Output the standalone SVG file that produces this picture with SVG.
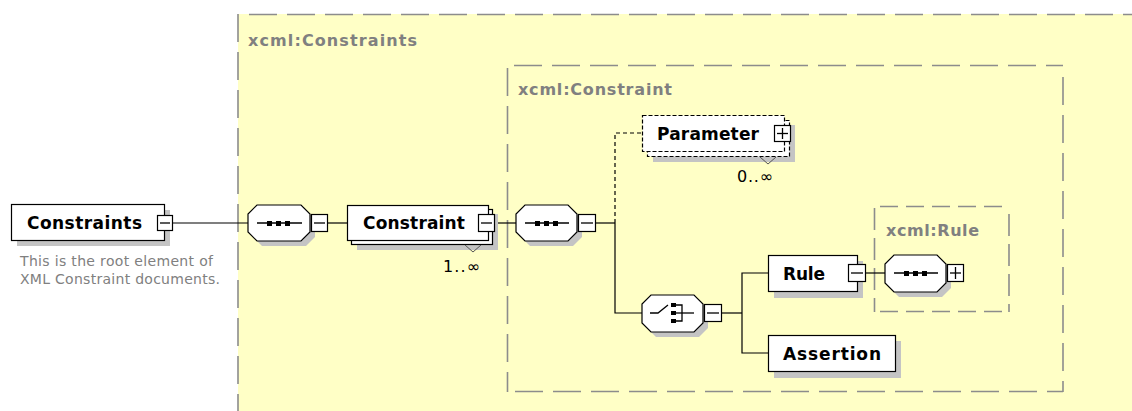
<svg xmlns="http://www.w3.org/2000/svg" width="1132" height="411" viewBox="0 0 1132 411">
<style>
.bg{fill:#ffffff}
.zone{fill:#FFFFC6;stroke:none}
.hd{stroke:#8c8c8c;stroke-width:1.6;fill:none;stroke-dasharray:28 10}
.zl{font-family:"DejaVu Sans",sans-serif;font-weight:bold;font-size:16px;fill:#808080}
.box{fill:#ffffff;stroke:#000;stroke-width:1.2}
.dbox{fill:#ffffff;stroke:#000;stroke-width:1.2;stroke-dasharray:4 2}
.sh{fill:#c4c4c4;stroke:none}
.nl{font-family:"DejaVu Sans",sans-serif;font-weight:bold;font-size:17px;fill:#000}
.btn{fill:#ffffff;stroke:#000;stroke-width:1.2}
.sym{stroke:#000;stroke-width:1.3;fill:none}
.dot{fill:#000}
.ln{stroke:#000;stroke-width:1.2;fill:none}
.dl{stroke:#000;stroke-width:1.2;fill:none;stroke-dasharray:4 3}
.occ{font-family:"DejaVu Sans",sans-serif;font-size:16px;fill:#000}
.tri{fill:none;stroke:#555;stroke-width:1}
.doc{font-family:"DejaVu Sans",sans-serif;font-size:14px;fill:#808080}
</style>
<rect class="bg" x="0" y="0" width="1132" height="411"/>

<g id="zone-constraints">
<rect class="zone" x="238" y="14" width="900" height="400"/>
<line class="hd" x1="249" y1="14.5" x2="1132" y2="14.5"/>
<line class="hd" x1="238" y1="14" x2="238" y2="411"/>
<text class="zl" x="248" y="46" textLength="169" lengthAdjust="spacing">xcml:Constraints</text>
</g>

<g id="zone-constraint">
<line class="hd" x1="514" y1="65.5" x2="1063" y2="65.5"/>
<line class="hd" x1="507.5" y1="68" x2="507.5" y2="392"/>
<line class="hd" x1="1063" y1="77" x2="1063" y2="392"/>
<line class="hd" x1="515" y1="391.5" x2="1063" y2="391.5"/>
<text class="zl" x="518" y="95" textLength="154" lengthAdjust="spacing">xcml:Constraint</text>
</g>

<g id="zone-rule">
<line class="hd" x1="880" y1="206.5" x2="1009" y2="206.5" style="stroke-dasharray:18 8"/>
<line class="hd" x1="874.5" y1="208" x2="874.5" y2="312" style="stroke-dasharray:22 8"/>
<line class="hd" x1="1009" y1="214" x2="1009" y2="312" style="stroke-dasharray:22 8"/>
<line class="hd" x1="880" y1="311.5" x2="1009" y2="311.5" style="stroke-dasharray:18 8"/>
<text class="zl" x="886" y="236" textLength="93" lengthAdjust="spacing">xcml:Rule</text>
</g>

<g id="connectors">
<line class="ln" x1="173" y1="223" x2="248" y2="223"/>
<line class="ln" x1="328" y1="223" x2="347" y2="223"/>
<line class="ln" x1="495" y1="223" x2="516" y2="223"/>
<line class="ln" x1="596" y1="223" x2="615" y2="223"/>
<polyline class="ln" points="615,223 615,313 642,313"/>
<polyline class="dl" points="615,223 615,133 642,133"/>
<line class="ln" x1="722" y1="313" x2="742" y2="313"/>
<polyline class="ln" points="768,273 742,273 742,353 768,353"/>
<line class="ln" x1="865" y1="273" x2="885" y2="273"/>
</g>

<g id="node-constraints">
<rect class="sh" x="17" y="210" width="153" height="36"/>
<rect class="box" x="11.5" y="204.5" width="153" height="36"/>
<text class="nl" x="27" y="229" textLength="115" lengthAdjust="spacing">Constraints</text>
<rect class="btn" x="157.5" y="215.5" width="15" height="15"/>
<line class="sym" x1="160" y1="223" x2="170" y2="223"/>
<text class="doc" x="20" y="266" textLength="193" lengthAdjust="spacing">This is the root element of</text>
<text class="doc" x="20" y="284" textLength="200" lengthAdjust="spacing">XML Constraint documents.</text>
</g>

<g id="seq-1">
<polygon class="sh" points="262,210 306,210 315,219 315,237 306,246 262,246 253,237 253,219"/>
<polygon class="box" points="257,205 301,205 310,214 310,232 301,241 257,241 248,232 248,214"/>
<line class="sym" x1="257" y1="223" x2="302" y2="223"/>
<rect class="dot" x="267" y="221" width="5" height="5"/>
<rect class="dot" x="276" y="221" width="5" height="5"/>
<rect class="dot" x="285" y="221" width="5" height="5"/>
<rect class="btn" x="311.5" y="214.5" width="16" height="17"/>
<line class="sym" x1="314" y1="223" x2="325" y2="223"/>
</g>

<g id="node-constraint">
<rect class="sh" x="357" y="214" width="141" height="36"/>
<rect class="box" x="351.5" y="209.5" width="141" height="35"/>
<rect class="box" x="347.5" y="205.5" width="141" height="35"/>
<text class="nl" x="363" y="229" textLength="102" lengthAdjust="spacing">Constraint</text>
<rect class="btn" x="478.5" y="214.5" width="16" height="17"/>
<line class="sym" x1="481" y1="223" x2="492" y2="223"/>
<polyline class="tri" points="465,245 473,252 481,245"/>
<text class="occ" x="443" y="272" textLength="37" lengthAdjust="spacing">1..∞</text>
</g>

<g id="seq-2">
<polygon class="sh" points="530,210 573,210 582,219 582,237 573,246 530,246 521,237 521,219"/>
<polygon class="box" points="525,205 568,205 577,214 577,232 568,241 525,241 516,232 516,214"/>
<line class="sym" x1="525" y1="223" x2="569" y2="223"/>
<rect class="dot" x="535" y="221" width="5" height="5"/>
<rect class="dot" x="544" y="221" width="5" height="5"/>
<rect class="dot" x="553" y="221" width="5" height="5"/>
<rect class="btn" x="578.5" y="214.5" width="17" height="17"/>
<line class="sym" x1="581" y1="223" x2="593" y2="223"/>
</g>

<g id="node-parameter">
<rect class="sh" x="653" y="125" width="142" height="37"/>
<rect class="dbox" x="647.5" y="120.5" width="142" height="36"/>
<rect class="dbox" x="642.5" y="115.5" width="142" height="36"/>
<text class="nl" x="657" y="140" textLength="102" lengthAdjust="spacing">Parameter</text>
<rect class="btn" x="774.5" y="125.5" width="16" height="16"/>
<line class="sym" x1="777" y1="133.5" x2="788" y2="133.5"/>
<line class="sym" x1="782.5" y1="128" x2="782.5" y2="139"/>
<polyline class="tri" points="760,157 768,164 776,157"/>
<text class="occ" x="737" y="182" textLength="36" lengthAdjust="spacing">0..∞</text>
</g>

<g id="choice">
<polygon class="sh" points="656,300 699,300 708,309 708,328 699,337 656,337 647,328 647,309"/>
<polygon class="box" points="651,295 694,295 703,304 703,323 694,332 651,332 642,323 642,304"/>
<polyline class="sym" points="650,313 658,313 668,305"/>
<rect class="dot" x="671" y="303" width="5" height="4"/>
<rect class="dot" x="671" y="311" width="5" height="4"/>
<rect class="dot" x="671" y="319" width="5" height="4"/>
<polyline class="sym" points="676,305 682,305 682,321 676,321"/>
<line class="sym" x1="676" y1="313" x2="694" y2="313"/>
<rect class="btn" x="704.5" y="304.5" width="17" height="17"/>
<line class="sym" x1="707" y1="313" x2="719" y2="313"/>
</g>

<g id="node-rule">
<rect class="sh" x="774" y="261" width="89" height="37"/>
<rect class="box" x="768.5" y="255.5" width="89" height="36"/>
<text class="nl" x="783" y="280" textLength="42" lengthAdjust="spacing">Rule</text>
<rect class="btn" x="848.5" y="264.5" width="17" height="17"/>
<line class="sym" x1="851" y1="273" x2="863" y2="273"/>
</g>

<g id="seq-3">
<polygon class="sh" points="899,260 942,260 951,269 951,288 942,297 899,297 890,288 890,269"/>
<polygon class="box" points="894,255 937,255 946,264 946,283 937,292 894,292 885,283 885,264"/>
<line class="sym" x1="894" y1="273" x2="938" y2="273"/>
<rect class="dot" x="904" y="271" width="5" height="5"/>
<rect class="dot" x="913" y="271" width="5" height="5"/>
<rect class="dot" x="922" y="271" width="5" height="5"/>
<rect class="btn" x="947.5" y="264.5" width="16" height="17"/>
<line class="sym" x1="950" y1="273" x2="961" y2="273"/>
<line class="sym" x1="955.5" y1="267" x2="955.5" y2="279"/>
</g>

<g id="node-assertion">
<rect class="sh" x="774" y="341" width="127" height="37"/>
<rect class="box" x="768.5" y="335.5" width="127" height="36"/>
<text class="nl" x="783" y="360" textLength="98" lengthAdjust="spacing">Assertion</text>
</g>
</svg>
